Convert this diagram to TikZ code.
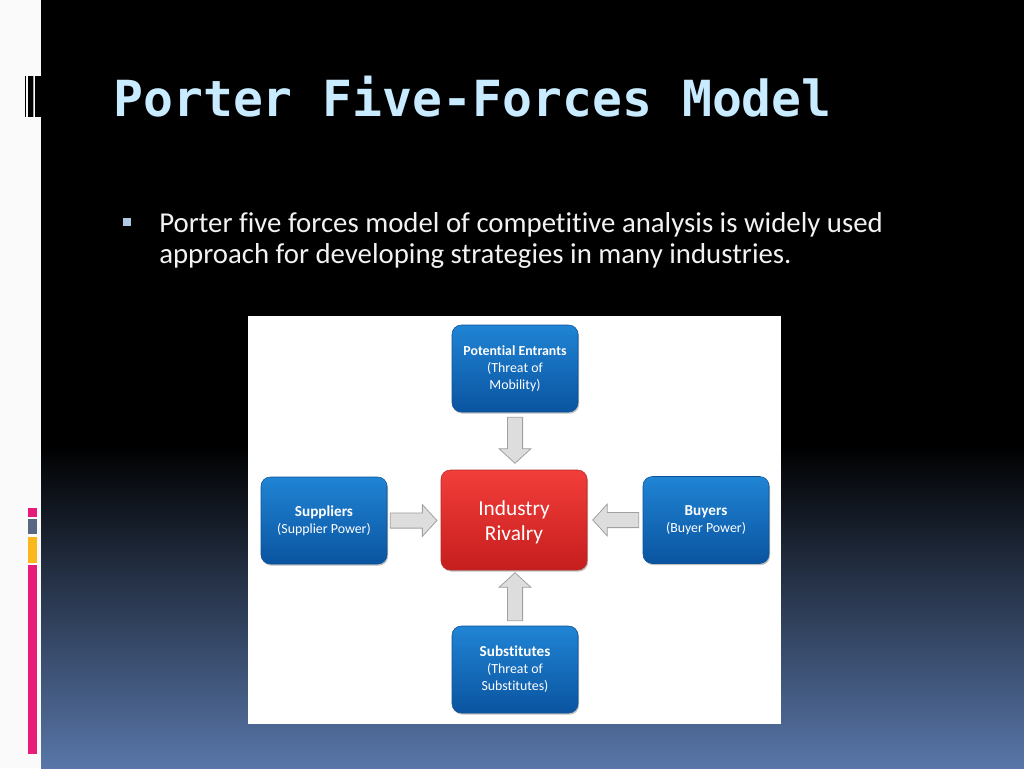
\documentclass[tikz,border=0pt]{standalone}
\usepackage{fontspec}
\setmainfont{Carlito}[Ligatures=CommonOff]
\newfontfamily\titlefont{DejaVu Sans Mono}
\usetikzlibrary{shapes.arrows,calc,shadows}
\newcommand\hdtext{\bfseries\fontsize{11.4}{13}\selectfont}
\definecolor{titleblue}{RGB}{200,235,255}
\definecolor{bodytext}{RGB}{242,242,242}
\definecolor{bulletc}{RGB}{176,200,226}
\definecolor{bgbottom}{RGB}{88,118,168}
\definecolor{stripwhite}{RGB}{250,250,250}
\definecolor{barpink}{RGB}{230,28,120}
\definecolor{bargray}{RGB}{88,104,132}
\definecolor{baryellow}{RGB}{250,184,28}
\definecolor{boxtop}{RGB}{32,132,212}
\definecolor{boxbot}{RGB}{10,84,160}
\definecolor{boxedge}{RGB}{14,82,150}
\definecolor{redtop}{RGB}{242,62,58}
\definecolor{redbot}{RGB}{198,30,30}
\definecolor{rededge}{RGB}{180,40,40}
\definecolor{arrowfill}{RGB}{221,221,221}
\definecolor{arrowedge}{RGB}{160,160,160}
\begin{document}
\begin{tikzpicture}[x=0.75pt,y=-0.75pt,
  forcebox/.style={shape=rectangle, rounded corners=7pt, minimum width=94.5pt,
    minimum height=65.25pt, inner sep=2pt, align=center, text=white,
    top color=boxtop, bottom color=boxbot, draw=boxedge, line width=0.4pt,
    drop shadow={shadow xshift=0.8pt, shadow yshift=-1.2pt, opacity=0.25, fill=black},
    font=\fontsize{10.4}{12.8}\selectfont},
  rivalbox/.style={forcebox, minimum width=109.5pt, minimum height=75pt,
    top color=redtop, bottom color=redbot, draw=rededge},
  rivaltext/.style={align=center, text=white, inner sep=0pt, font=\fontsize{16}{19}\selectfont},
  bodyline/.style={anchor=base west, inner sep=0, text=bodytext, font=\fontsize{21.6}{25}\selectfont},
  farrow/.style={single arrow, draw=arrowedge, fill=arrowfill, line width=0.6pt,
    inner xsep=0pt, inner ysep=5.4pt, single arrow head extend=6.2pt,
    single arrow tip angle=95, outer sep=0pt, anchor=tail, minimum height=35pt}
]
\useasboundingbox (0,0) rectangle (1024,768);
% background
\fill[stripwhite] (0,0) rectangle (41,768);
\fill[black] (41,0) rectangle (1024,768);
\shade[top color=black, bottom color=bgbottom] (41,445) rectangle (1024,768);
% top stripes
\fill[black] (25,76) rectangle (26,117);
\fill[black] (27.8,76) rectangle (28.6,117);
\fill[black] (29.3,76) rectangle (32.8,117);
\fill[gray!70] (33.2,76) rectangle (34.4,117);
\fill[black] (34.8,76) rectangle (41,117);
% bottom bars
\fill[barpink] (28,508) rectangle (37,517);
\fill[bargray] (28,519) rectangle (37,534);
\fill[baryellow] (28,537) rectangle (37,563);
\fill[barpink] (28,565) rectangle (37,754);
% title and bullet
\node[anchor=base west, inner sep=0, text=titleblue,
  font=\titlefont\bfseries\fontsize{37.3}{40}\selectfont] (title) at (113,116) {Porter Five-Forces Model};
\node[fill=bulletc, minimum size=6pt, inner sep=0] (bul) at (127,222) {};
\node[bodyline] (b1) at (159,232)
  {Porter five forces model of competitive analysis is widely used};
\node[bodyline] (b2) at (159,263)
  {approach for developing strategies in many industries.};
% picture panel
\fill[white] (248,316) rectangle (781,724);
% boxes
\node[forcebox] (pe) at (515,368.5)
  {{\bfseries Potential Entrants}\\(Threat of\\Mobility)};
\node[rivalbox] (ir) at (514,520) {};
\node[rivaltext] (irtext) at ($(ir.center)+(0,2.5)$) {Industry\\Rivalry};
\node[forcebox] (sup) at (324,520.5)
  {{\hdtext Suppliers}\\(Supplier Power)};
\node[forcebox] (buy) at (706,520)
  {{\hdtext Buyers}\\(Buyer Power)};
\node[forcebox] (sub) at (515,669.5)
  {{\hdtext Substitutes}\\(Threat of\\Substitutes)};
% block arrows
\node[farrow, rotate=-90, minimum height=34.5pt] (a1) at ($(pe.south)+(0,5)$) {};
\node[farrow, minimum height=35pt] (a2) at ($(sup.east)+(3,0)$) {};
\node[farrow, rotate=180, minimum height=34.5pt] (a3) at ($(buy.west)+(-4,0)$) {};
\node[farrow, rotate=90, minimum height=36pt] (a4) at ($(sub.north)+(0,-5)$) {};
\end{tikzpicture}
\end{document}
